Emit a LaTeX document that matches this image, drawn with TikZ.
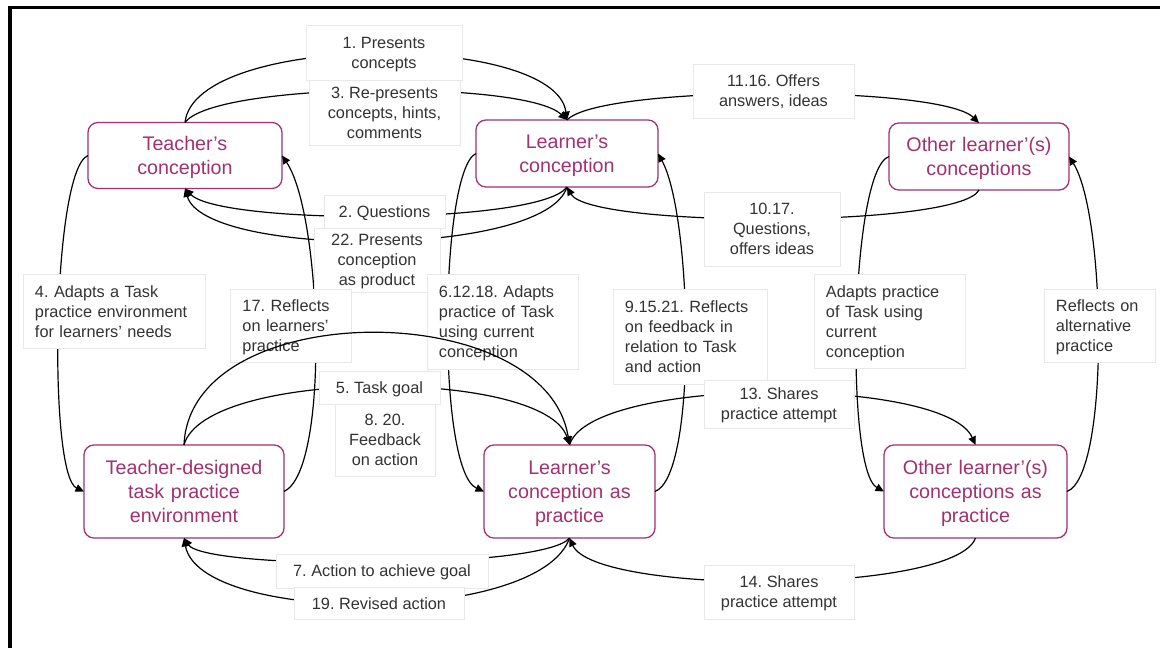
\documentclass[tikz,border=0pt]{standalone}
\usepackage{fontspec}
\setmainfont{Liberation Sans}
\usetikzlibrary{arrows.meta}
\frenchspacing
\definecolor{conColor}{HTML}{A3306F}
\definecolor{lblColor}{HTML}{333333}
\newcommand{\conFont}{\fontsize{14}{17.1}\selectfont}
\newcommand{\lblFont}{\fontsize{11.6}{14.2}\selectfont}
\tikzset{
	concept/.style={draw=conColor, text=conColor, font=\conFont, line width=0.9pt,
		rounded corners=2.5mm, outer sep=0, inner xsep=0pt, align=center, text height=13.4pt},
	con2/.style={concept, text depth=20.8pt},
	con3/.style={concept, text depth=37.9pt},
	lbl/.style={fill=white, draw=black!9, line width=0.5pt, text=lblColor,
		font=\lblFont, inner sep=0pt, outer sep=0, text height=11.1pt},
	lbl left/.style={lbl, inner xsep=0.3cm, align=left},
	rows1/.style={text depth=3.1pt},
	rows2/.style={text depth=17.3pt},
	rows3/.style={text depth=31.5pt},
	rows4/.style={text depth=45.7pt}
}

\begin{document}
\begin{tikzpicture}[x=0.025cm, y=-0.025cm, line width=0.85pt,
		>={Triangle[length=6pt,width=5.5pt]}]
	\useasboundingbox (0,0) rectangle (1160,648);
	\draw[line width=2.8pt] (10,648) -- (10,7.5) -- (1160,7.5);
	
	% conceptions
	\node[con2, text width=4.85cm, minimum height=1.65cm] (tc) at (185,155.5) {Teacher’s\\conception};
	\node[con2, text width=4.55cm, minimum height=1.675cm] (lc) at (567,153.5) {Learner’s\\conception};
	\node[con2, text width=4.5cm, minimum height=1.675cm] (oc) at (979,156.5) {Other learner’(s)\\conceptions};
	% practice
	\node[con3, text width=5cm, minimum height=2.325cm] (tde) at (184,491.5) {Teacher-designed\\task practice\\environment};
	\node[con3, text width=4.275cm, minimum height=2.325cm] (lp) at (569.5,491.5) {Learner’s\\conception as\\practice};
	\node[con3, text width=4.575cm, minimum height=2.325cm] (op) at (975.5,491.5) {Other learner’(s)\\conceptions as\\practice};
	
	% top row
	\draw[->] (tc.north) .. controls (195,32) and (555,32) .. (lc.north);
	\draw[->] (tc.north) .. controls (215,82) and (525,80) .. (lc.north);
	\draw[->] (lc.north) .. controls (600,85) and (940,85) .. (oc.north);
	\draw[->] (lc.south) .. controls (540,225) and (220,225) .. (tc.south);
	\draw[->] (lc.south) .. controls (545,258) and (205,258) .. (tc.south);
	\draw[->] (oc.south) .. controls (960,228) and (590,228) .. (lc.south);
	% down and up
	\draw[->] (tc.west) .. controls (52,170) and (48,475) .. (tde.west);
	\draw[->] (tde.east) .. controls (330,470) and (322,215) .. (tc.east);
	\draw[->] (lc.west) .. controls (440,170) and (436,470) .. (lp.west);
	\draw[->] (lp.east) .. controls (698,475) and (692,215) .. (lc.east);
	\draw[->] (oc.west) .. controls (850,170) and (845,470) .. (op.west);
	\draw[->] (op.east) .. controls (1110,475) and (1106,215) .. (oc.east);
	% bottom row
	\draw[->] (tde.north) .. controls (205,368) and (545,368) .. (lp.north);
	\draw[->] (lp.north) .. controls (590,376) and (945,376) .. (op.north);
	\draw[->] (lp.south) .. controls (545,570) and (205,570) .. (tde.south);
	\draw[->] (lp.south) .. controls (540,625) and (200,625) .. (tde.south);
	\draw[->] (op.south) .. controls (955,595) and (595,595) .. (lp.south);
	
	% labels
	\node[lbl, rows2, minimum width=3.9cm, minimum height=1.375cm] (l1) at (384,52.5) {\begin{tabular}[t]{@{}c@{}} 1. Presents \\ concepts \end{tabular}};
	\node[lbl, rows3, minimum width=3.775cm, minimum height=1.625cm] (l3) at (384.5,112.5) {\begin{tabular}[t]{@{}c@{}} 3. Re-presents \\ concepts, hints, \\ comments \end{tabular}};
	\node[lbl, rows1, minimum width=3.025cm, minimum height=0.825cm] (l2) at (384.5,211.5) {2. Questions};
	\node[lbl, rows3, minimum width=3.15cm, minimum height=1.6cm] (l22) at (377,260) {\begin{tabular}[t]{@{}c@{}} 22. Presents \\ conception \\ as product \end{tabular}};
	\node[lbl, rows2, minimum width=4.025cm, minimum height=1.35cm] (l11) at (773.5,91) {\begin{tabular}[t]{@{}c@{}} 11.16. Offers \\ answers, ideas \end{tabular}};
	\node[lbl, rows3, minimum width=3.4cm, minimum height=1.85cm] (l10) at (772,229) {\begin{tabular}[t]{@{}c@{}} 10.17. \\ Questions, \\ offers ideas \end{tabular}};
	\node[lbl left, rows3, text width=3.95cm, minimum height=1.85cm] (l4) at (114,311.5) {\begin{tabular}[t]{@{}l@{}} 4. Adapts a Task \\ practice environment \\ for learners’ needs \end{tabular}};
	\node[lbl left, rows3, text width=2.425cm, minimum height=1.825cm] (l17) at (291,326) {\begin{tabular}[t]{@{}l@{}} 17. Reflects \\ on learners’ \\ practice \end{tabular}};
	\node[lbl left, rows4, text width=3.175cm, minimum height=2.375cm] (l6) at (502.5,321.5) {\begin{tabular}[t]{@{}l@{}} 6.12.18. Adapts \\ practice of Task \\ using current \\ conception \end{tabular}};
	\node[lbl left, rows4, text width=3.25cm, minimum height=2.375cm] (l9) at (690,336.5) {\begin{tabular}[t]{@{}l@{}} 9.15.21. Reflects \\ on feedback in \\ relation to Task \\ and action \end{tabular}};
	\node[lbl left, rows4, text width=3.175cm, minimum height=2.35cm] (ladapt) at (889.5,321.5) {\begin{tabular}[t]{@{}l@{}} Adapts practice \\ of Task using \\ current \\ conception \end{tabular}};
	\node[lbl left, rows3, text width=2.175cm, minimum height=1.825cm] (lreflect) at (1099.5,326) {\begin{tabular}[t]{@{}l@{}} Reflects on \\ alternative \\ practice \end{tabular}};
	\node[lbl, rows1, minimum width=3.025cm, minimum height=0.825cm] (l5) at (379.5,387.5) {5. Task goal};
	\node[lbl, rows3, minimum width=2.5cm, minimum height=1.8cm] (l8) at (385,440) {\begin{tabular}[t]{@{}c@{}} 8. 20. \\ Feedback \\ on action \end{tabular}};
	\node[lbl, rows2, minimum width=3.75cm, minimum height=1.2cm] (l13) at (779,404) {\begin{tabular}[t]{@{}c@{}} 13. Shares \\ practice attempt \end{tabular}};
	\node[lbl, rows1, minimum width=5.3cm, minimum height=0.85cm] (l7) at (382,571) {7. Action to achieve goal};
	\node[lbl, rows1, minimum width=4.25cm, minimum height=0.8cm] (l19) at (379,603.5) {19. Revised action};
	\node[lbl, rows2, minimum width=3.75cm, minimum height=1.35cm] (l14) at (779,592) {\begin{tabular}[t]{@{}c@{}} 14. Shares \\ practice attempt \end{tabular}};
	
	% arc over the labels
	\draw[->] (tde.north) .. controls (190,296) and (545.5,296) .. (lp.north);
\end{tikzpicture}
\end{document}
